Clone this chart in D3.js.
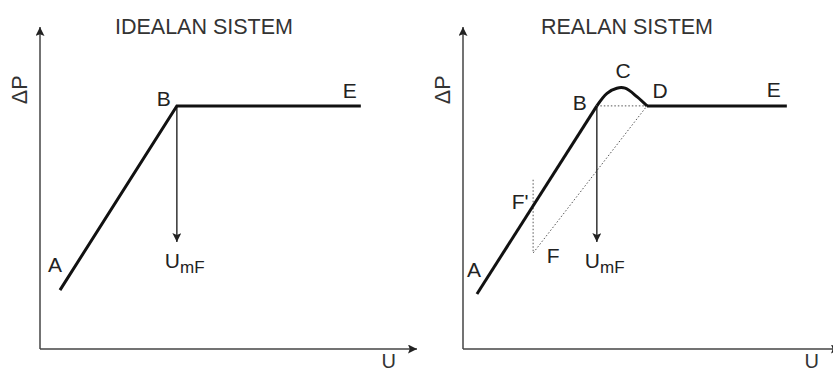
<!DOCTYPE html>
<html>
<head>
<meta charset="utf-8">
<script src="https://cdn.jsdelivr.net/npm/d3@7"></script>
<style>
  html, body { margin: 0; padding: 0; background: #fff; }
  svg { display: block; font-family: "Liberation Sans", Arial, sans-serif; }
</style>
</head>
<body>
<div class="canvas"></div>
<script>
// values in chart units (U across, ΔP up), 0..100 on each axis
const titles = ["IDEALAN SISTEM", "REALAN SISTEM"];
const idealCurve = [[5.3, 18.3], [36.3, 75.5], [85.1, 75.5]];
const realRise = [[3.7, 17.1], [35.5, 75.5]];
const realBump = [[35.5, 75.5], [38.2, 79.4], [40.8, 81.0], [43.0, 81.0], [46.2, 78.3], [48.8, 75.5]];
const realFlat = [[48.8, 75.5], [85.9, 75.5]];
const dottedPath = [[35.5, 75.5], [48.8, 75.5], [18.6, 29.8], [18.6, 53.1]];
const umfTip = 33.2;

const width = 833;
const height = 374;

const svg = d3
  .select(".canvas")
  .append("svg")
  .attr("width", width)
  .attr("height", height);

const defs = svg.append("defs");
defs
  .append("marker")
  .attr("id", "arrowHead")
  .attr("viewBox", "0 0 10 10")
  .attr("refX", 10)
  .attr("refY", 5)
  .attr("markerUnits", "userSpaceOnUse")
  .attr("markerWidth", 13)
  .attr("markerHeight", 9)
  .attr("orient", "auto")
  .append("path")
  .attr("d", "M0,0 L10,5 L0,10 L2,5 Z")
  .attr("fill", "#222");

const panels = [
  { left: 40, title: titles[0], real: false },
  { left: 463, title: titles[1], real: true },
];

panels.forEach((p) => {
  const x = d3.scaleLinear().domain([0, 100]).range([p.left, p.left + 377]);
  const y = d3.scaleLinear().domain([0, 100]).range([349, 27]);
  const line = d3.line().x((d) => x(d[0])).y((d) => y(d[1]));
  const g = svg.append("g");

  // axes
  g.append("line")
    .attr("x1", x(0)).attr("y1", y(0))
    .attr("x2", x(0)).attr("y2", y(100))
    .attr("stroke", "#444").attr("stroke-width", 1.5)
    .attr("marker-end", "url(#arrowHead)");
  g.append("line")
    .attr("x1", x(0)).attr("y1", y(0))
    .attr("x2", x(100)).attr("y2", y(0))
    .attr("stroke", "#444").attr("stroke-width", 1.5)
    .attr("marker-end", "url(#arrowHead)");

  g.append("text")
    .attr("x", x(43.5)).attr("y", 34)
    .attr("text-anchor", "middle")
    .attr("font-size", 21.5)
    .attr("fill", "#333")
    .text(p.title);

  g.append("text")
    .attr("transform", `translate(${x(0) - 13}, ${y(80.5)}) rotate(-90)`)
    .attr("text-anchor", "middle")
    .attr("font-size", 21.5)
    .attr("fill", "#333")
    .text("ΔP");

  g.append("text")
    .attr("x", x(92.5)).attr("y", 368)
    .attr("text-anchor", "middle")
    .attr("font-size", 20)
    .attr("fill", "#333")
    .text("U");

  const B = p.real ? realRise[1] : idealCurve[1];

  if (p.real) {
    g.append("path")
      .attr("d", line(dottedPath))
      .attr("fill", "none").attr("stroke", "#555")
      .attr("stroke-width", 1).attr("stroke-dasharray", "1.5,2");
  }

  // UmF arrow
  g.append("line")
    .attr("x1", x(B[0])).attr("y1", y(B[1]))
    .attr("x2", x(B[0])).attr("y2", y(umfTip))
    .attr("stroke", "#333").attr("stroke-width", 1.5)
    .attr("marker-end", "url(#arrowHead)");

  // main curve
  if (p.real) {
    g.append("path").attr("d", line(realRise))
      .attr("fill", "none").attr("stroke", "#111").attr("stroke-width", 3);
    g.append("path").attr("d", line.curve(d3.curveCatmullRom)(realBump))
      .attr("fill", "none").attr("stroke", "#111").attr("stroke-width", 3);
    line.curve(d3.curveLinear);
    g.append("path").attr("d", line(realFlat))
      .attr("fill", "none").attr("stroke", "#111").attr("stroke-width", 3);
  } else {
    g.append("path").attr("d", line(idealCurve))
      .attr("fill", "none").attr("stroke", "#111").attr("stroke-width", 3)
      .attr("stroke-linejoin", "miter");
  }

  // point labels
  const labels = p.real
    ? [
        ["A", realRise[0], -3, -17],
        ["B", B, -17, 4],
        ["C", realBump[3], -2, -10],
        ["D", realFlat[0], 13, -8],
        ["E", realFlat[1], -13, -9],
        ["F'", [18.6, 43], -13, -2],
        ["F", dottedPath[2], 20, 10],
      ]
    : [
        ["A", idealCurve[0], -5, -18],
        ["B", B, -13, 0],
        ["E", idealCurve[2], -11, -8],
      ];
  labels.forEach(([t, d, dx, dy]) => {
    g.append("text")
      .attr("x", x(d[0]) + dx).attr("y", y(d[1]) + dy)
      .attr("text-anchor", "middle")
      .attr("font-size", 21)
      .attr("fill", "#222")
      .text(t);
  });

  const u = g.append("text")
    .attr("x", x(B[0]) - 12).attr("y", y(umfTip) + 26)
    .attr("font-size", 21)
    .attr("fill", "#222");
  u.append("tspan").text("U");
  u.append("tspan").attr("dy", 5).attr("font-size", 17).text("mF");
});
</script>
</body>
</html>
